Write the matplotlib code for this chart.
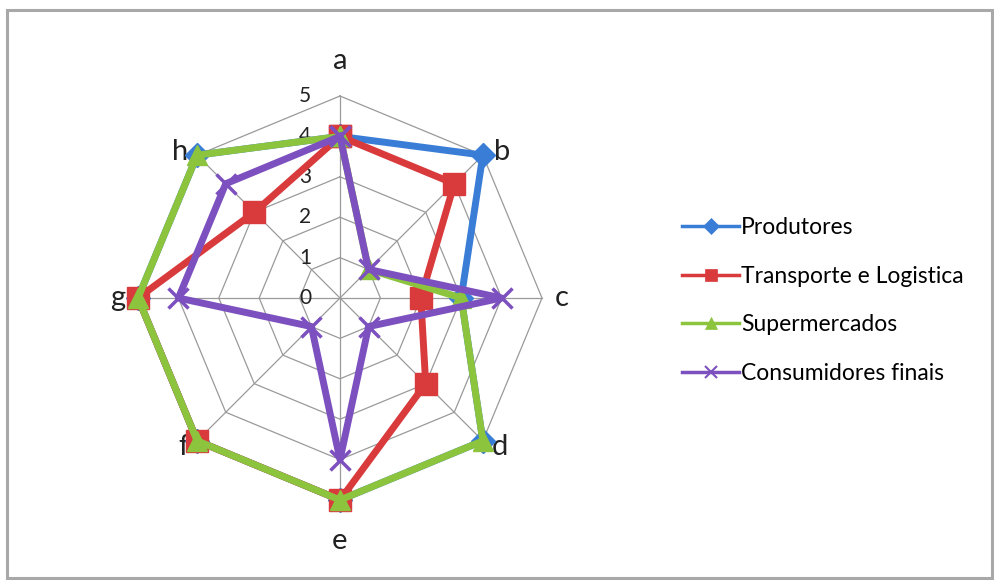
import matplotlib.pyplot as plt
import matplotlib.transforms as mtransforms
from matplotlib.patches import Rectangle
from matplotlib.lines import Line2D
import numpy as np

plt.rcParams['font.family'] = ['Lato', 'DejaVu Sans']

categories = ['a', 'b', 'c', 'd', 'e', 'f', 'g', 'h']
levels = [0, 1, 2, 3, 4, 5]

series_names = ['Produtores', 'Transporte e Logistica', 'Supermercados', 'Consumidores finais']
produtores = [4, 5, 3, 5, 5, 5, 5, 5]
transporte = [4, 4, 2, 3, 5, 5, 5, 3]
supermercados = [4, 1, 3, 5, 5, 5, 5, 5]
consumidores = [4, 1, 4, 1, 4, 1, 4, 4]

colors = ['#3a7dd6', '#d93b3d', '#8cc43e', '#7d50bf']
markers = ['D', 's', '^', 'x']
msizes = [12, 16, 15, 15]

W, H = 995, 583
fig = plt.figure(figsize=(W / 100, H / 100), dpi=100)

# outer frame
fig.patches.append(Rectangle((7 / W, 5 / H), 985 / W, 568 / H, transform=fig.transFigure,
                             fill=False, edgecolor='#a8a8a8', linewidth=2.2))

cx, cy, R = 340, 298, 202
ax = fig.add_axes([(cx - R) / W, (H - cy - R) / H, 2 * R / W, 2 * R / H], projection='polar')
ax.set_theta_offset(np.pi / 2)
ax.set_theta_direction(-1)
ax.set_ylim(0, 5)
ax.set_axis_off()

n = len(categories)
theta = np.linspace(0, 2 * np.pi, n, endpoint=False)
closed = np.append(theta, theta[0])

# octagonal grid and spokes
for lv in levels[1:]:
    ax.plot(closed, [lv] * (n + 1), color='#9a9a9a', lw=0.9, clip_on=False, zorder=1)
for t in theta:
    ax.plot([t, t], [0, 5], color='#9a9a9a', lw=0.9, clip_on=False, zorder=1)

# value labels along the a-axis
lab_tr = mtransforms.offset_copy(ax.transData, fig=fig, x=-35, y=0, units='dots')
for lv in levels:
    ax.text(0, lv, str(lv), transform=lab_tr, ha='center', va='center', fontsize=15, color='#222222')

# category labels, pushed out from the outer ring (pixels)
label_offsets = [(0, 35), (19, 3), (20, 0), (17, -6), (0, -41), (-14, -6), (-20, 0), (-17, 3)]
for t, c, (ox, oy) in zip(theta, categories, label_offsets):
    tr = mtransforms.offset_copy(ax.transData, fig=fig, x=ox, y=oy, units='dots')
    ax.text(t, 5, c, transform=tr, ha='center', va='center', fontsize=21, color='#222222')

data = [produtores, transporte, supermercados, consumidores]
handles = []
for vals, col, mk, ms, name in zip(data, colors, markers, msizes, series_names):
    v = vals + vals[:1]
    ax.plot(closed, v, color=col, lw=5, marker=mk, markersize=ms,
            markeredgewidth=2.5 if mk == 'x' else 1, clip_on=False, zorder=3)
    handles.append(Line2D([], [], color=col, lw=2.5, marker=mk,
                          markersize=8, markeredgewidth=1.5 if mk == 'x' else 0.5, label=name))

fig.legend(handles=handles, loc='upper left', bbox_to_anchor=(671 / W, 1 - 206 / H),
           frameon=False, fontsize=16.5, handlelength=2.45, handletextpad=0.1,
           labelspacing=1.2, borderpad=0)

fig.savefig('out.png', dpi=100)
